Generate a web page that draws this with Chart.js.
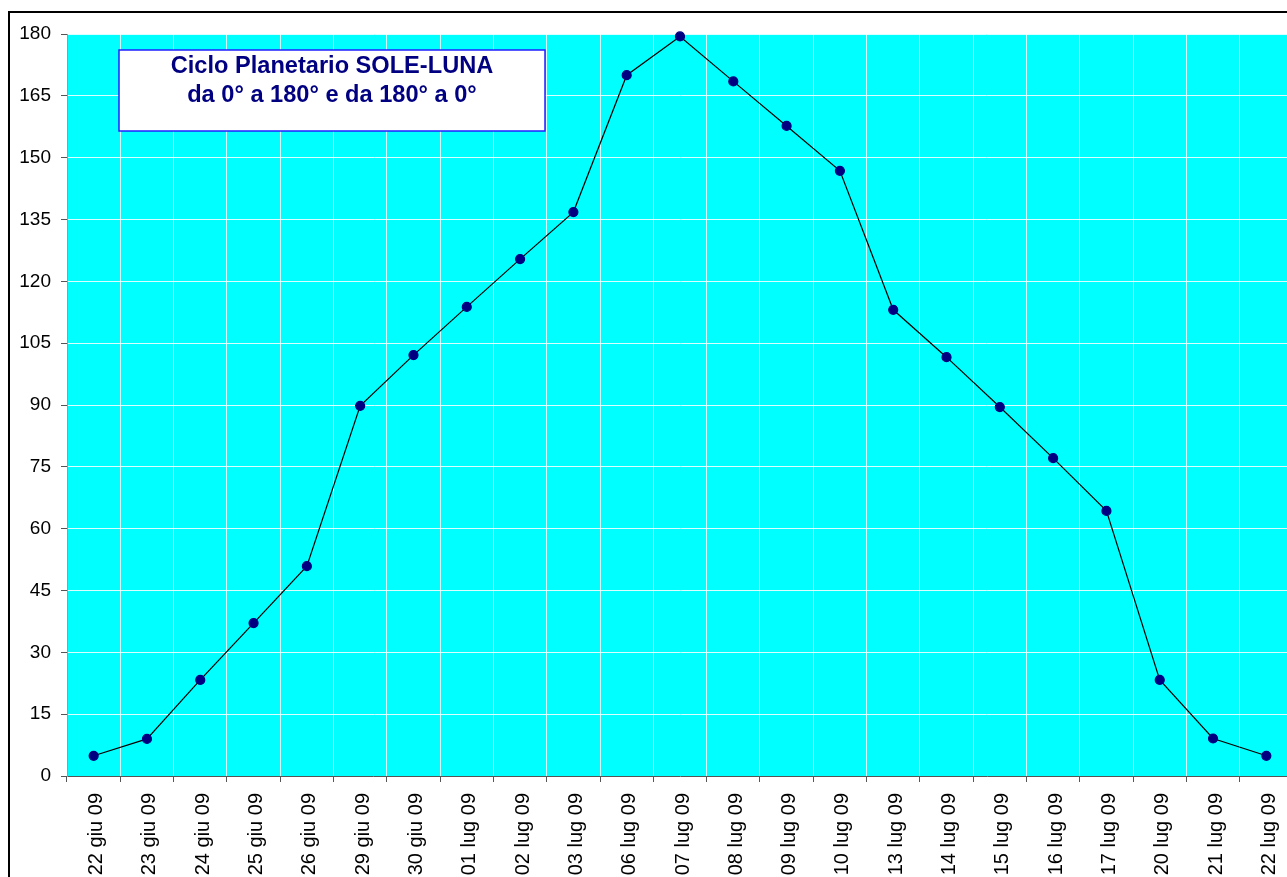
<!DOCTYPE html>
<html>
<head>
<meta charset="utf-8">
<script src="https://cdn.jsdelivr.net/npm/chart.js@4.4.1/dist/chart.umd.min.js"></script>
<style>
  html, body { margin: 0; padding: 0; background: #fff; overflow: hidden; }
  #wrap { position: absolute; left: 0; top: 0; width: 1310px; height: 900px; }
</style>
</head>
<body>
<div id="wrap"><canvas id="cicloChart"></canvas></div>
<script>
const dates = [
  "22 giu 09", "23 giu 09", "24 giu 09", "25 giu 09", "26 giu 09", "29 giu 09",
  "30 giu 09", "01 lug 09", "02 lug 09", "03 lug 09", "06 lug 09", "07 lug 09",
  "08 lug 09", "09 lug 09", "10 lug 09", "13 lug 09", "14 lug 09", "15 lug 09",
  "16 lug 09", "17 lug 09", "20 lug 09", "21 lug 09", "22 lug 09"
];

const angles = [
  4.9, 9.0, 23.3, 37.1, 50.9, 89.8,
  102.1, 113.8, 125.4, 136.8, 170.0, 179.4,
  168.5, 157.7, 146.8, 113.1, 101.6, 89.5,
  77.1, 64.3, 23.3, 9.1, 4.9
];

const yMin = 0;
const yMax = 180;
const yStep = 15;

const titleLines = ["Ciclo Planetario SOLE-LUNA", "da 0° a 180° e da 180° a 0°"];

// sfondo, cornice e riquadro del titolo
const sfondo = {
  id: "sfondo",
  beforeDraw(chart) {
    const { ctx, chartArea: a, width, height } = chart;
    ctx.save();
    ctx.fillStyle = "#ffffff";
    ctx.fillRect(0, 0, width, height);
    ctx.fillStyle = "#000000";
    ctx.fillRect(8, 11, 2, height);
    ctx.fillRect(8, 11, width, 2);
    ctx.fillStyle = "#00ffff";
    ctx.fillRect(a.left, a.top, a.right - a.left, a.bottom - a.top);
    ctx.restore();
  },
  beforeDatasetsDraw(chart) {
    const { ctx } = chart;
    ctx.save();
    ctx.fillStyle = "#ffffff";
    ctx.fillRect(119, 50, 426, 81);
    ctx.strokeStyle = "#2020ff";
    ctx.lineWidth = 1.5;
    ctx.strokeRect(119, 50, 426, 81);
    ctx.fillStyle = "#000080";
    ctx.font = "bold 23.6px Arial, 'Liberation Sans', sans-serif";
    ctx.textAlign = "center";
    ctx.textBaseline = "alphabetic";
    ctx.fillText(titleLines[0], 332, 73);
    ctx.fillText(titleLines[1], 332, 102);
    ctx.restore();
  }
};

const ctx = document.getElementById("cicloChart").getContext("2d");

const cicloChart = new Chart(ctx, {
  type: "line",
  data: {
    labels: dates,
    datasets: [
      {
        label: "Ciclo SOLE-LUNA",
        data: angles,
        borderColor: "#000000",
        borderWidth: 1.2,
        pointBackgroundColor: "#000080",
        pointBorderColor: "#000080",
        pointRadius: 4.5,
        tension: 0,
        clip: false
      }
    ]
  },
  options: {
    responsive: true,
    maintainAspectRatio: false,
    animation: false,
    layout: { padding: { top: 34, left: 0, right: 17, bottom: 0 } },
    plugins: {
      legend: { display: false },
      tooltip: { enabled: false }
    },
    scales: {
      x: {
        offset: true,
        grid: {
          offset: true,
          color: "rgba(255,255,255,0.85)",
          tickColor: "#555555",
          tickLength: 6,
          lineWidth: 1
        },
        border: { color: "#555555", width: 1 },
        ticks: {
          minRotation: 90,
          maxRotation: 90,
          autoSkip: false,
          padding: 11,
          labelOffset: 3,
          color: "#000000",
          font: { family: "Arial, 'Liberation Sans', sans-serif", size: 20 }
        },
        afterFit(scale) { scale.height = 124; }
      },
      y: {
        min: yMin,
        max: yMax,
        grid: {
          color: "rgba(255,255,255,0.85)",
          tickColor: "#555555",
          tickLength: 6,
          lineWidth: 1
        },
        border: { color: "#9a9a9a", width: 1 },
        ticks: {
          stepSize: yStep,
          padding: 10,
          color: "#000000",
          font: { family: "Arial, 'Liberation Sans', sans-serif", size: 19 }
        },
        afterFit(scale) { scale.width = 67; }
      }
    }
  },
  plugins: [sfondo]
});
</script>
</body>
</html>
